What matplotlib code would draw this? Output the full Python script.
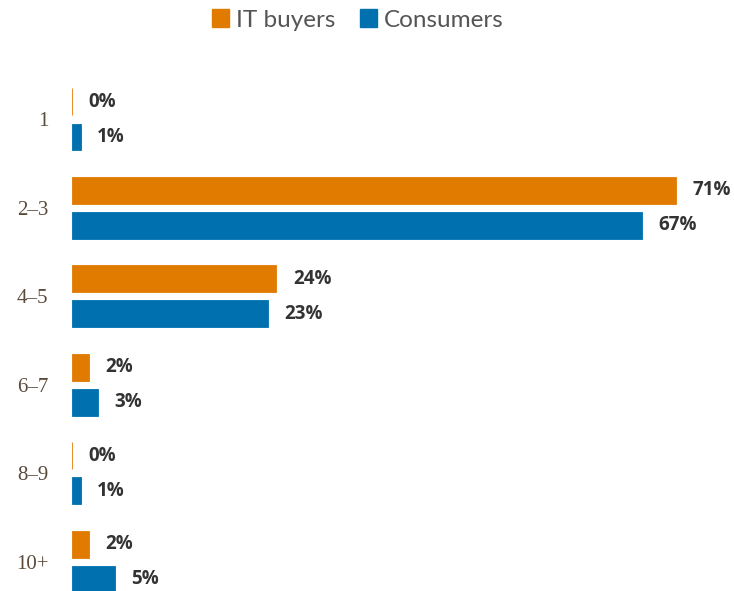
import numpy as np
import matplotlib
matplotlib.use("Agg")
import matplotlib.pyplot as plt
from matplotlib.patches import Patch

# ── Data ─────────────────────────────────────────────────────────────────
categories = ["1", "2–3", "4–5", "6–7", "8–9", "10+"]
it_buyers  = [0, 71, 24, 2, 0, 2]
consumers  = [1, 67, 23, 3, 1, 5]

ORANGE = "#E07B00"
BLUE   = "#0071AE"

fig = plt.figure(figsize=(7.34, 5.91), dpi=100)
ax = fig.add_axes([72 / 734, 0, 662 / 734, (591 - 66.4) / 591])

y = np.arange(len(categories))
off, h = 0.198, 0.305

ax.barh(y - off, it_buyers, height=h, color=ORANGE, edgecolor=ORANGE, linewidth=0.6)
ax.barh(y + off, consumers, height=h, color=BLUE, edgecolor=BLUE, linewidth=0.6)

# value labels just past the bar ends
for yy, v in zip(y - off, it_buyers):
    ax.annotate(f"{v}%", (v, yy), textcoords="offset points", xytext=(12, 0),
                va="center", ha="left", fontsize=13.5, fontweight="bold",
                color="#333333", family="Open Sans")
for yy, v in zip(y + off, consumers):
    ax.annotate(f"{v}%", (v, yy), textcoords="offset points", xytext=(12, 0),
                va="center", ha="left", fontsize=13.5, fontweight="bold",
                color="#333333", family="Open Sans")

ax.set_xlim(0, 71 * 662 / 604)
ax.set_ylim(5.33, -0.6)
ax.set_yticks(y)
ax.set_yticklabels(categories, family="Liberation Serif", fontsize=15, color="#5a4a3a")
ax.tick_params(axis="y", length=0, pad=17)
ax.set_xticks([])
for s in ax.spines.values():
    s.set_visible(False)

handles = [Patch(color=ORANGE, label="IT buyers"), Patch(color=BLUE, label="Consumers")]
fig.legend(handles=handles, loc="center", bbox_to_anchor=(358 / 734, 1 - 20 / 591), ncol=2,
           frameon=False, handlelength=0.7, handleheight=0.7, handletextpad=0.3,
           columnspacing=1.0, prop={"family": "Lato", "size": 17.5},
           labelcolor="#555555")

fig.savefig("out.png", dpi=100)
